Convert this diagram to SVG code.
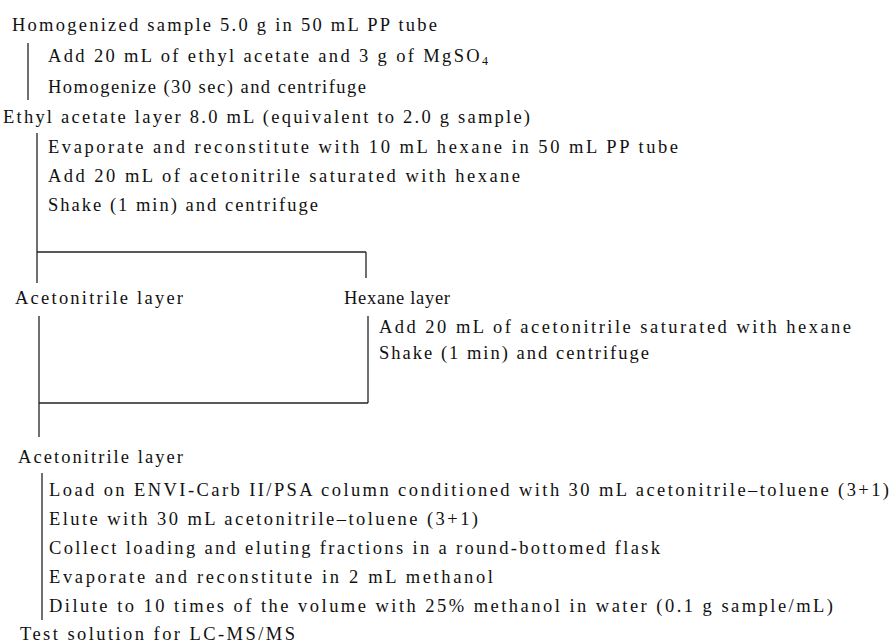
<svg xmlns="http://www.w3.org/2000/svg" width="893" height="643" viewBox="0 0 893 643">
<style>
text{font-family:"Liberation Serif","Times New Roman",serif;font-size:18.5px;fill:#111}
.sub{font-size:12px}
line{stroke:#222;stroke-width:1.3;fill:none}
</style>
<rect width="893" height="643" fill="#fff"/>
<g id="connectors">
<line x1="28" y1="43" x2="28" y2="100"/>
<line x1="37" y1="133" x2="37" y2="283"/>
<line x1="37" y1="252" x2="366" y2="252"/>
<line x1="366" y1="252" x2="366" y2="278"/>
<line x1="39" y1="316" x2="39" y2="437"/>
<line x1="368" y1="316" x2="368" y2="403"/>
<line x1="39" y1="403" x2="368" y2="403"/>
<line x1="42" y1="473" x2="42" y2="620"/>
</g>
<g id="n1"><text x="12" y="31" textLength="425" lengthAdjust="spacing">Homogenized sample 5.0 g in 50 mL PP tube</text></g>
<g id="n2"><text x="48" y="62" textLength="440" lengthAdjust="spacing">Add 20 mL of ethyl acetate and 3 g of MgSO<tspan class="sub" dy="3">4</tspan></text>
<text x="48" y="93" textLength="318" lengthAdjust="spacing">Homogenize (30 sec) and centrifuge</text></g>
<g id="n3"><text x="3" y="123" textLength="527" lengthAdjust="spacing">Ethyl acetate layer 8.0 mL (equivalent to 2.0 g sample)</text></g>
<g id="n4"><text x="48" y="153" textLength="630" lengthAdjust="spacing">Evaporate and reconstitute with 10 mL hexane in 50 mL PP tube</text>
<text x="48" y="182" textLength="472" lengthAdjust="spacing">Add 20 mL of acetonitrile saturated with hexane</text>
<text x="48" y="211" textLength="270" lengthAdjust="spacing">Shake (1 min) and centrifuge</text></g>
<g id="n5"><text x="15" y="304" textLength="168" lengthAdjust="spacing">Acetonitrile layer</text></g>
<g id="n6"><text x="344" y="304" textLength="106" lengthAdjust="spacing">Hexane layer</text></g>
<g id="n7"><text x="379" y="333" textLength="472" lengthAdjust="spacing">Add 20 mL of acetonitrile saturated with hexane</text>
<text x="379" y="359" textLength="270" lengthAdjust="spacing">Shake (1 min) and centrifuge</text></g>
<g id="n8"><text x="18" y="463" textLength="165" lengthAdjust="spacing">Acetonitrile layer</text></g>
<g id="n9"><text x="49" y="496" textLength="840" lengthAdjust="spacing">Load on ENVI-Carb II/PSA column conditioned with 30 mL acetonitrile–toluene (3+1)</text>
<text x="49" y="525" textLength="429" lengthAdjust="spacing">Elute with 30 mL acetonitrile–toluene (3+1)</text>
<text x="49" y="554" textLength="611" lengthAdjust="spacing">Collect loading and eluting fractions in a round-bottomed flask</text>
<text x="49" y="583" textLength="444" lengthAdjust="spacing">Evaporate and reconstitute in 2 mL methanol</text>
<text x="49" y="612" textLength="784" lengthAdjust="spacing">Dilute to 10 times of the volume with 25% methanol in water (0.1 g sample/mL)</text></g>
<g id="n10"><text x="20" y="640" textLength="275" lengthAdjust="spacing">Test solution for LC-MS/MS</text></g>
</svg>
